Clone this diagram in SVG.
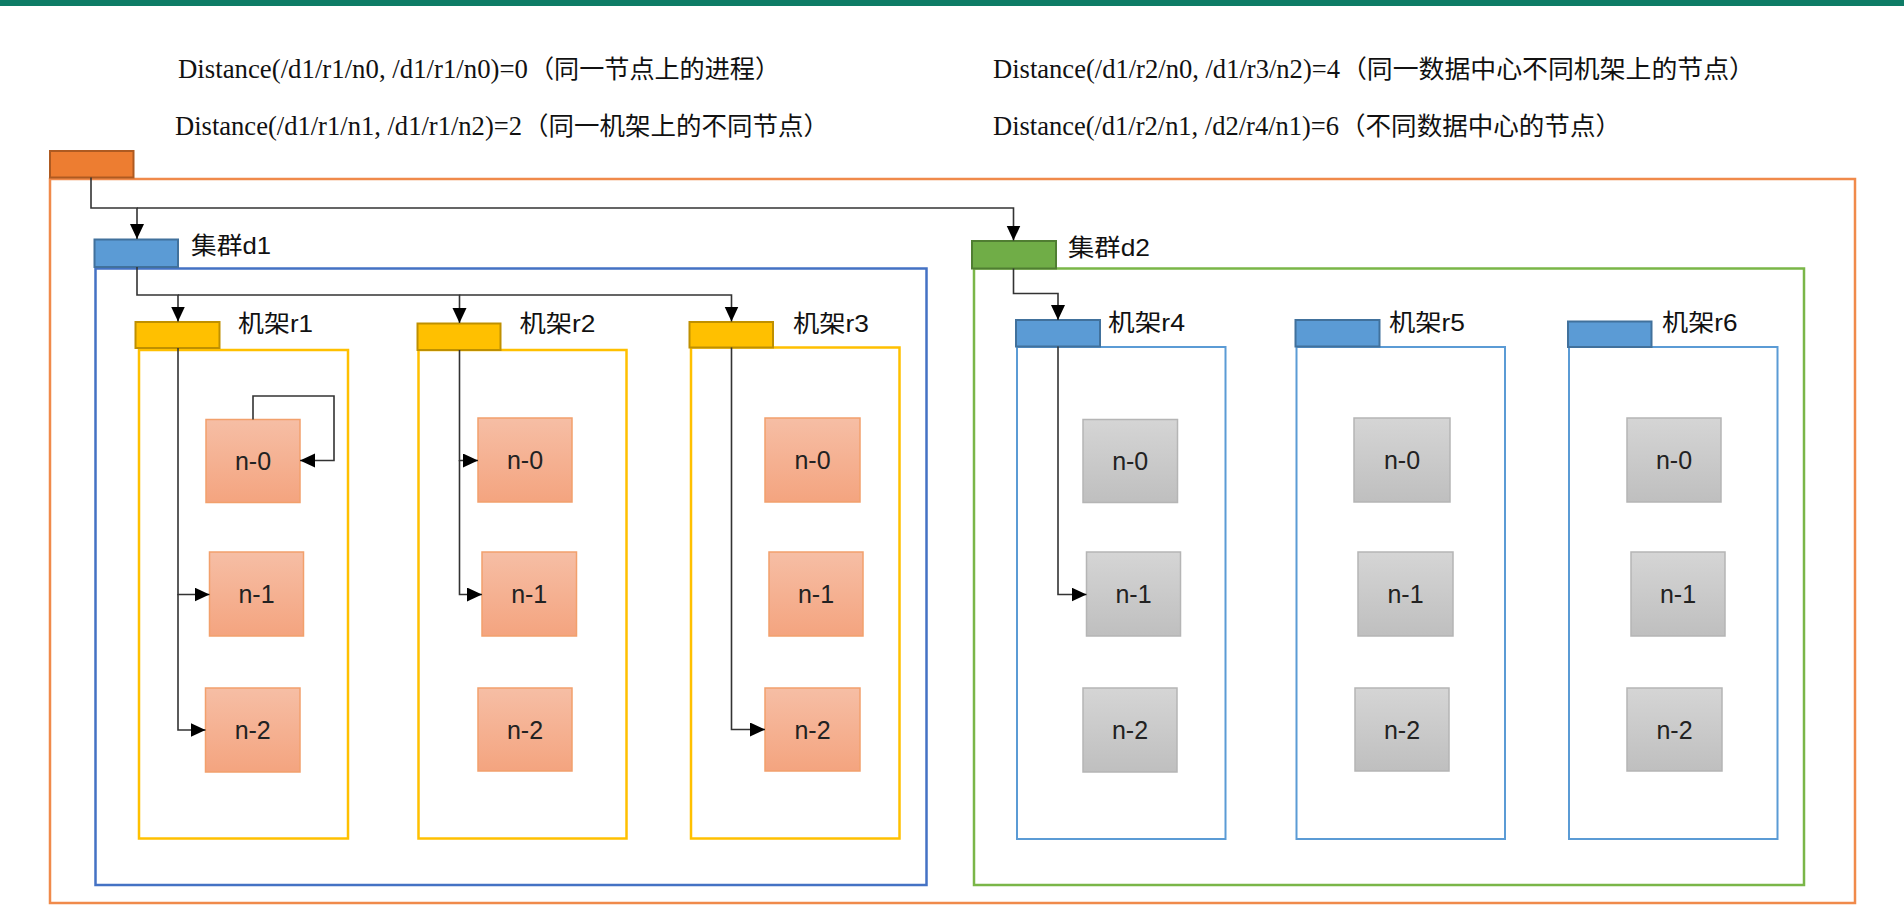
<svg xmlns="http://www.w3.org/2000/svg" width="1904" height="916" viewBox="0 0 1904 916">
<defs>
<linearGradient id="gO" x1="0" y1="0" x2="0" y2="1"><stop offset="0" stop-color="#F6BEA5"/><stop offset="1" stop-color="#F4A47F"/></linearGradient>
<linearGradient id="gG" x1="0" y1="0" x2="0" y2="1"><stop offset="0" stop-color="#D5D5D5"/><stop offset="1" stop-color="#BFBFBF"/></linearGradient>
<marker id="arr" markerUnits="userSpaceOnUse" markerWidth="16" markerHeight="16" refX="15" refY="7" orient="auto"><path d="M0,0 L15,7 L0,14 z" fill="#000"/></marker>
<style>
.lat{font-family:"Liberation Serif","Times New Roman",serif;font-size:27px;fill:#111}
.cjk{font-family:"Noto Sans CJK SC","Liberation Sans",sans-serif;font-size:25px;fill:#111}
.lbl{font-family:"Liberation Sans","Noto Sans CJK SC",sans-serif;font-size:24px;fill:#111}
.nt{font-family:"Liberation Sans","Noto Sans CJK SC",sans-serif;font-size:25px;fill:#222;text-anchor:middle}
.on{fill:url(#gO);stroke:#F2A06C;stroke-width:1.5}
.gn{fill:url(#gG);stroke:#B5B5B5;stroke-width:1.5}
.tabO{fill:#ED7D31;stroke:#AE5A21;stroke-width:2}
.tabB{fill:#5B9BD5;stroke:#41719C;stroke-width:2}
.tabG{fill:#70AD47;stroke:#507E32;stroke-width:2}
.tabY{fill:#FFC000;stroke:#BF9000;stroke-width:2}
.cO{fill:none;stroke:#F08A4B;stroke-width:2.5}
.cD1{fill:none;stroke:#4472C4;stroke-width:2.5}
.cD2{fill:none;stroke:#7AB648;stroke-width:2.5}
.cY{fill:none;stroke:#FFC000;stroke-width:2.5}
.cB{fill:none;stroke:#5B9BD5;stroke-width:2}
.la{fill:none;stroke:#333;stroke-width:1.6;marker-end:url(#arr)}
</style>
</defs>
<rect width="1904" height="916" fill="#fff"/>
<rect x="0" y="0" width="1904" height="6" fill="#0E7C66"/>
<g id="captions">
<text class="lat" x="178" y="78" textLength="350" lengthAdjust="spacingAndGlyphs">Distance(/d1/r1/n0, /d1/r1/n0)=0</text>
<text class="cjk" x="529" y="78" textLength="251" lengthAdjust="spacingAndGlyphs">（同一节点上的进程）</text>
<text class="lat" x="175" y="135" textLength="347" lengthAdjust="spacingAndGlyphs">Distance(/d1/r1/n1, /d1/r1/n2)=2</text>
<text class="cjk" x="523" y="135" textLength="306" lengthAdjust="spacingAndGlyphs">（同一机架上的不同节点）</text>
<text class="lat" x="993" y="78" textLength="347" lengthAdjust="spacingAndGlyphs">Distance(/d1/r2/n0, /d1/r3/n2)=4</text>
<text class="cjk" x="1341" y="78" textLength="414" lengthAdjust="spacingAndGlyphs">（同一数据中心不同机架上的节点）</text>
<text class="lat" x="993" y="135" textLength="346" lengthAdjust="spacingAndGlyphs">Distance(/d1/r2/n1, /d2/r4/n1)=6</text>
<text class="cjk" x="1340" y="135" textLength="281" lengthAdjust="spacingAndGlyphs">（不同数据中心的节点）</text>
</g>
<g id="root">
<rect class="cO" x="50" y="179" width="1805" height="724"/>
<rect class="tabO" x="50" y="151" width="83.5" height="26.5"/>
</g>
<g id="d1">
<rect class="cD1" x="95.5" y="268.5" width="831" height="616.5"/>
<rect class="tabB" x="94.5" y="239.5" width="83.5" height="27.5"/>
<text class="lbl" x="191" y="254" textLength="80" lengthAdjust="spacingAndGlyphs">集群d1</text>
</g>
<g id="d2">
<rect class="cD2" x="974" y="268.5" width="830" height="616.5"/>
<rect class="tabG" x="972" y="241" width="84" height="27.5"/>
<text class="lbl" x="1068" y="256" textLength="82" lengthAdjust="spacingAndGlyphs">集群d2</text>
</g>
<g id="r1">
<rect class="cY" x="139" y="350" width="209" height="488.5"/>
<rect class="tabY" x="135.5" y="322" width="84" height="26"/>
<text class="lbl" x="238" y="332" textLength="75" lengthAdjust="spacingAndGlyphs">机架r1</text>
</g>
<g id="r2">
<rect class="cY" x="418.5" y="350" width="208" height="488.5"/>
<rect class="tabY" x="417.5" y="323.5" width="83" height="26.5"/>
<text class="lbl" x="519.5" y="332" textLength="76" lengthAdjust="spacingAndGlyphs">机架r2</text>
</g>
<g id="r3">
<rect class="cY" x="691" y="347.5" width="208.5" height="491"/>
<rect class="tabY" x="689.5" y="322" width="83.5" height="25.5"/>
<text class="lbl" x="793" y="332" textLength="76" lengthAdjust="spacingAndGlyphs">机架r3</text>
</g>
<g id="r4">
<rect class="cB" x="1017" y="347" width="208.5" height="492"/>
<rect class="tabB" x="1016" y="320" width="84" height="26.5"/>
<text class="lbl" x="1108" y="331" textLength="77" lengthAdjust="spacingAndGlyphs">机架r4</text>
</g>
<g id="r5">
<rect class="cB" x="1296.5" y="347" width="208.5" height="492"/>
<rect class="tabB" x="1295.5" y="320" width="84" height="26.5"/>
<text class="lbl" x="1389" y="331" textLength="76" lengthAdjust="spacingAndGlyphs">机架r5</text>
</g>
<g id="r6">
<rect class="cB" x="1569" y="347" width="208.5" height="492"/>
<rect class="tabB" x="1568" y="321.5" width="83.5" height="25.5"/>
<text class="lbl" x="1662" y="331" textLength="75.5" lengthAdjust="spacingAndGlyphs">机架r6</text>
</g>
<g id="r1-n0"><rect class="on" x="206" y="419.5" width="94" height="83"/><text class="nt" x="253" y="470">n-0</text></g>
<g id="r1-n1"><rect class="on" x="209.5" y="552" width="94" height="84"/><text class="nt" x="256.5" y="603">n-1</text></g>
<g id="r1-n2"><rect class="on" x="205.5" y="688" width="94.5" height="84"/><text class="nt" x="252.7" y="739">n-2</text></g>
<g id="r2-n0"><rect class="on" x="478" y="418" width="94" height="84"/><text class="nt" x="525" y="469">n-0</text></g>
<g id="r2-n1"><rect class="on" x="482" y="552" width="94.5" height="84"/><text class="nt" x="529.2" y="603">n-1</text></g>
<g id="r2-n2"><rect class="on" x="478" y="688" width="94" height="83"/><text class="nt" x="525" y="738.5">n-2</text></g>
<g id="r3-n0"><rect class="on" x="765" y="418" width="95" height="84"/><text class="nt" x="812.5" y="469">n-0</text></g>
<g id="r3-n1"><rect class="on" x="769" y="552" width="94" height="84"/><text class="nt" x="816" y="603">n-1</text></g>
<g id="r3-n2"><rect class="on" x="765" y="688" width="95" height="83"/><text class="nt" x="812.5" y="738.5">n-2</text></g>
<g id="r4-n0"><rect class="gn" x="1083" y="419.5" width="94.5" height="83"/><text class="nt" x="1130.2" y="470">n-0</text></g>
<g id="r4-n1"><rect class="gn" x="1086.5" y="552" width="94" height="84"/><text class="nt" x="1133.5" y="603">n-1</text></g>
<g id="r4-n2"><rect class="gn" x="1083" y="688" width="94" height="84"/><text class="nt" x="1130" y="739">n-2</text></g>
<g id="r5-n0"><rect class="gn" x="1354" y="418" width="96" height="84"/><text class="nt" x="1402" y="469">n-0</text></g>
<g id="r5-n1"><rect class="gn" x="1358" y="552" width="95" height="84"/><text class="nt" x="1405.5" y="603">n-1</text></g>
<g id="r5-n2"><rect class="gn" x="1355" y="688" width="94" height="83"/><text class="nt" x="1402" y="738.5">n-2</text></g>
<g id="r6-n0"><rect class="gn" x="1627" y="418" width="94" height="84"/><text class="nt" x="1674" y="469">n-0</text></g>
<g id="r6-n1"><rect class="gn" x="1631" y="552" width="94" height="84"/><text class="nt" x="1678" y="603">n-1</text></g>
<g id="r6-n2"><rect class="gn" x="1627" y="688" width="95" height="83"/><text class="nt" x="1674.5" y="738.5">n-2</text></g>
<g id="connectors">
<path class="la" d="M91,177.5 V208 H137 V239"/>
<path class="la" d="M137,208 H1013.5 V240.5"/>
<path class="la" d="M137,267 V295 H178 V321.5"/>
<path class="la" d="M178,295 H459.5 V323"/>
<path class="la" d="M459.5,295 H731.5 V321.5"/>
<path class="la" d="M1013.5,268.5 V293.5 H1058 V320"/>
<path class="la" d="M178,348 V594.5 H209.5"/>
<path class="la" d="M178,594 V730 H205.5"/>
<path class="la" d="M253,419.5 V396 H334 V460.5 H300"/>
<path class="la" d="M459.5,350 V460.5 H478"/>
<path class="la" d="M459.5,460 V594.5 H482"/>
<path class="la" d="M731.5,347.5 V729.5 H765"/>
<path class="la" d="M1058,346.5 V594.5 H1086.5"/>
</g>
</svg>
